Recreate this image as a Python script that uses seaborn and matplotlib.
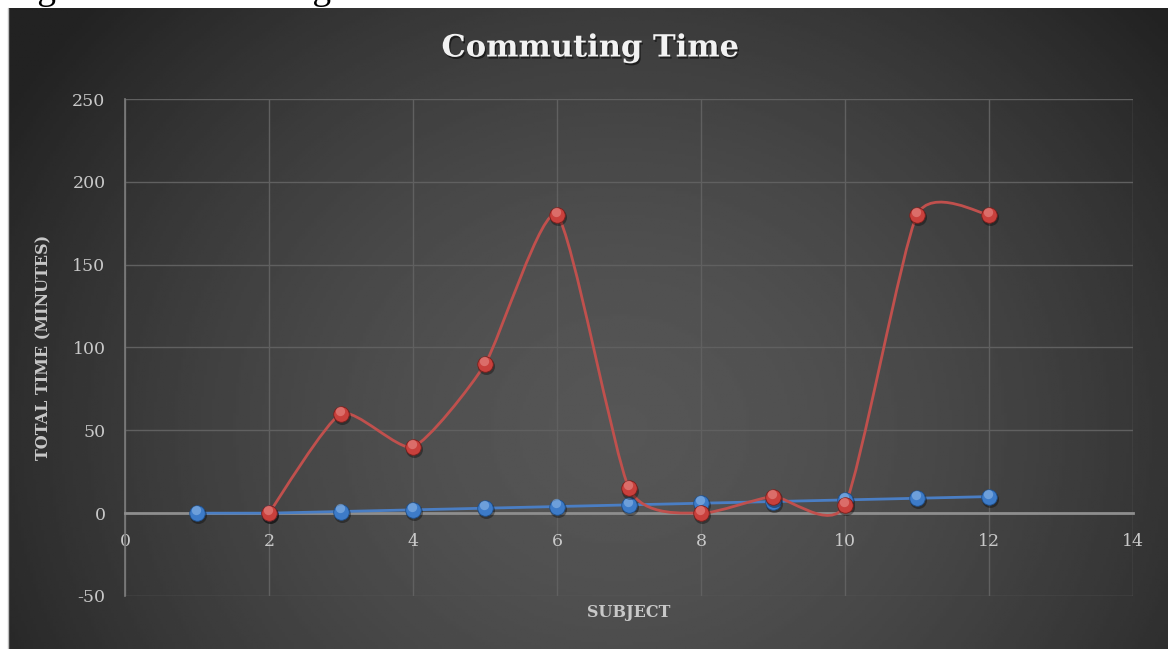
import numpy as np
import seaborn as sns
import matplotlib.pyplot as plt
import matplotlib.patheffects as pe
from matplotlib.path import Path
from matplotlib.patches import PathPatch
from matplotlib.transforms import offset_copy

# data
subjects = [1, 2, 3, 4, 5, 6, 7, 8, 9, 10, 11, 12]
series_blue = [0, 0, 1, 2, 3, 4, 5, 6, 7, 8, 9, 10]
red_subjects = [2, 3, 4, 5, 6, 7, 8, 9, 10, 11, 12]
series_red = [0, 60, 40, 90, 180, 15, 0, 10, 5, 180, 180]
x_ticks = [0, 2, 4, 6, 8, 10, 12, 14]
y_ticks = [-50, 0, 50, 100, 150, 200, 250]

BLUE = "#4a7ec4"
RED = "#c0504d"
TXT = "#c8c8c8"

sns.set_style("dark")
plt.rcParams['font.family'] = ['DejaVu Serif']
plt.rcParams['axes.unicode_minus'] = False

W, H = 1168, 649
fig = plt.figure(figsize=(W / 100, H / 100), dpi=100)
fig.patch.set_facecolor("white")

# radial gradient background of the chart area
bg = fig.add_axes([8 / W, 0, 1 - 8 / W, 1 - 8 / H])
gx, gy = np.meshgrid(np.linspace(8, W, 400), np.linspace(8, H, 240))
r = np.sqrt(((gx - 620) / 700) ** 2 + ((gy - 430) / 620) ** 2)
shade = np.clip(0x56 - (0x56 - 0x24) * r ** 1.6, 0x22, 0x56) / 255
bg.imshow(shade, cmap="gray", vmin=0, vmax=1, extent=[0, 1, 0, 1], aspect="auto", origin="upper")
bg.set_axis_off()
bg.set_zorder(-5)
fig.add_artist(plt.Line2D([8 / W, 8 / W], [0, 1 - 8 / H], color="#bdbdbd", lw=1))

# caption above the chart, mostly cut off by the page edge
fig.text(6 / W, 1 + 1 / H, "Figure 1: Commuting Time", family="Liberation Serif",
         fontsize=27, color="black", va="baseline")

ax = fig.add_axes([125 / W, 1 - 596 / H, (1133 - 125) / W, (596 - 99) / H])
ax.set_facecolor("none")
ax.set_xlim(0, 14)
ax.set_ylim(-50, 250)
ax.set_xticks(x_ticks)
ax.set_yticks(y_ticks)
ax.grid(True, color="#606060", lw=1)
for s in ["top", "right"]:
    ax.spines[s].set_visible(False)
ax.spines["left"].set_color("#7c7c7c")
ax.spines["left"].set_linewidth(1.2)
ax.spines["bottom"].set_position(("data", 0))
ax.spines["bottom"].set_color("#8e8e8e")
ax.spines["bottom"].set_linewidth(2)
ax.tick_params(axis="both", length=0, labelsize=12.5, labelcolor=TXT)
ax.tick_params(axis="x", pad=14)
ax.tick_params(axis="y", pad=14)

# blue straight line
sns.lineplot(x=subjects, y=series_blue, ax=ax, color=BLUE, lw=2, zorder=3)

# red smoothed line (cubic bezier through the points)
f = 0.1
pts = np.column_stack([red_subjects, series_red]).astype(float)
verts = [pts[0]]
codes = [Path.MOVETO]
for i in range(len(pts) - 1):
    p0 = pts[max(i - 1, 0)]
    p1 = pts[i]
    p2 = pts[i + 1]
    p3 = pts[min(i + 2, len(pts) - 1)]
    verts += [p1 + (p2 - p0) * f, p2 - (p3 - p1) * f, p2]
    codes += [Path.CURVE4] * 3
ax.add_patch(PathPatch(Path(verts, codes), fill=False, edgecolor=RED, lw=2, zorder=4))


def balls(xs, ys, base, light, dark, z):
    shadow = offset_copy(ax.transData, fig=fig, x=0.6, y=-1.6, units="points")
    hi = offset_copy(ax.transData, fig=fig, x=-0.6, y=2.2, units="points")
    sns.scatterplot(x=xs, y=ys, ax=ax, s=150, color="black", alpha=0.35,
                    linewidth=0, transform=shadow, zorder=z)
    sns.scatterplot(x=xs, y=ys, ax=ax, s=125, color=base, edgecolor=dark,
                    linewidth=0.6, zorder=z + 0.1)
    sns.scatterplot(x=xs, y=ys, ax=ax, s=45, color=light, alpha=0.45,
                    linewidth=0, transform=hi, zorder=z + 0.2)


balls(subjects, series_blue, "#3d7bc8", "#a8ccf2", "#1f4f8a", 5)
balls(red_subjects, series_red, "#c9403c", "#f2a6a2", "#7a1f1c", 6)

ax.set_xlim(0, 14)
ax.set_ylim(-50, 250)

ax.set_ylabel("TOTAL TIME (MINUTES)", fontsize=11.5, weight="bold", color=TXT)
ax.yaxis.set_label_coords(-0.072, 0.5)
ax.set_xlabel("SUBJECT", fontsize=11.5, weight="bold", color=TXT, va="center")
ax.xaxis.set_label_coords(0.5, -0.034)

fig.text(590 / W, 1 - 48 / H, "Commuting Time", ha="center", va="center",
         fontsize=22, weight="bold", color="#f2f2f2",
         path_effects=[pe.withSimplePatchShadow(offset=(1, -1.5), shadow_rgbFace="black", alpha=0.5)])

fig.savefig("out.png", dpi=100)
